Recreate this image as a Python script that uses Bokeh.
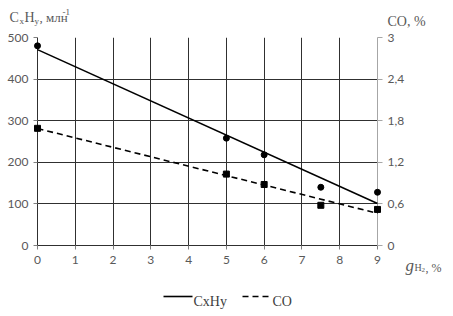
import numpy as np
from bokeh.plotting import figure
from bokeh.models import Range1d, LinearAxis, FixedTicker, CustomJSTickFormatter
from bokeh.core.properties import value
from bokeh.embed import file_html
from bokeh.resources import INLINE

# data
g_h2 = [0, 5, 6, 7.5, 9]
cxhy = [480, 258, 218, 140, 128]          # млн^-1
co = [1.69, 1.03, 0.88, 0.58, 0.52]       # %
x_ticks = [0, 1, 2, 3, 4, 5, 6, 7, 8, 9]
y_ticks = [0, 100, 200, 300, 400, 500]
co_ticks = [0, 0.6, 1.2, 1.8, 2.4, 3]
series_names = ["CxHy", "CO"]

W, H = 453, 316
L, R, T, B = 37, 76, 37, 71

p = figure(width=W, height=H, output_backend="svg", toolbar_location=None,
           x_range=Range1d(0, 9), y_range=Range1d(0, 500),
           min_border_left=L, min_border_right=R, min_border_top=T, min_border_bottom=B,
           x_axis_location="below", y_axis_location="left")
p.outline_line_color = None
p.background_fill_color = "white"
p.border_fill_color = "white"
p.extra_y_ranges = {"co": Range1d(0, 3)}

grid_col = "#303030"
p.xgrid.ticker = FixedTicker(ticks=x_ticks)
p.ygrid.ticker = FixedTicker(ticks=y_ticks)
p.xgrid.grid_line_color = grid_col
p.ygrid.grid_line_color = grid_col
p.xgrid.grid_line_width = 1
p.ygrid.grid_line_width = 1

tick_font = "Lato"
tick_col = "#595959"
for ax in (p.xaxis[0], p.yaxis[0]):
    ax.major_label_text_font = tick_font
    ax.major_label_text_font_size = "12px"
    ax.major_label_text_color = tick_col
    ax.minor_tick_line_color = None
    ax.major_tick_in = 0
    ax.major_tick_out = 4
    ax.axis_line_color = grid_col
    ax.major_tick_line_color = "#808080"
p.xaxis[0].ticker = FixedTicker(ticks=x_ticks)
p.yaxis[0].ticker = FixedTicker(ticks=y_ticks)
p.xaxis[0].major_label_standoff = 6
p.yaxis[0].major_label_standoff = 5

rax = LinearAxis(y_range_name="co", ticker=FixedTicker(ticks=co_ticks))
rax.formatter = CustomJSTickFormatter(
    code="return Number.isInteger(tick) ? String(tick) : tick.toFixed(1).replace('.', ',');")
rax.major_label_text_font = tick_font
rax.major_label_text_font_size = "12px"
rax.major_label_text_color = tick_col
rax.minor_tick_line_color = None
rax.major_tick_in = 0
rax.major_tick_out = 5
rax.axis_line_color = "#a6a6a6"
rax.major_tick_line_color = "#a6a6a6"
rax.major_label_standoff = 5
p.add_layout(rax, "right")

# trend lines (linear least squares of the read points)
xs = np.array(g_h2, dtype=float)
k1, b1 = np.polyfit(xs, np.array(cxhy, dtype=float), 1)
k2, b2 = np.polyfit(xs, np.array(co, dtype=float), 1)
tx = [x_ticks[0], x_ticks[-1]]
rs = []
rs.append(p.line(tx, [b1 + k1 * t for t in tx], line_color="black", line_width=1.6))
rs.append(p.line(tx, [b2 + k2 * t for t in tx], line_color="black", line_width=1.6,
                 line_dash="6 4", y_range_name="co"))
rs.append(p.scatter(g_h2, cxhy, marker="circle", size=6, color="black"))
rs.append(p.scatter(g_h2, co, marker="square", size=6, color="black", y_range_name="co"))
for r in rs:
    r.level = "overlay"

# helpers: pixel position -> data position (for text placement only)
def dx(px):
    return (px - L) * 9 / (W - L - R)

def dy(py):
    return (H - B - py) * 500 / (H - T - B)

title_col = "#595959"
serif = "serif"

def lab(text, px, py, size, italic=False, col=title_col):
    r = p.text(x=[dx(px)], y=[dy(py)], text=[text], text_font=value(serif),
               text_font_size=f"{size}px", text_color=col,
               text_baseline="alphabetic", text_align="left",
               text_font_style="italic" if italic else "normal")
    r.level = "overlay"

# left axis title: CxHy , млн-1
lab("C", 9, 17, 14)
lab("x", 19, 20, 9)
lab("H", 24, 17, 14)
lab("y", 34, 20, 9)
lab(", млн", 39, 17, 13)
lab("-1", 62, 11, 9)
# right axis title
lab("CO, %", 387, 21, 14)
# x axis title g_H2, %
lab("g", 405, 265, 17, italic=True)
lab("H", 414, 267, 10)
lab("2", 421, 269, 7)
lab(", %", 425, 267, 12)

# legend (drawn manually below the axis)
leg_y = dy(296)
r = p.line([dx(163), dx(192)], [leg_y, leg_y], line_color="black", line_width=1.6)
r.level = "overlay"
r = p.line([dx(242), dx(271)], [leg_y, leg_y], line_color="black", line_width=1.6,
           line_dash="6 4")
r.level = "overlay"
lab(series_names[0], 193, 301, 14, col="#404040")
lab(series_names[1], 272, 301, 14, col="#404040")

open("out.html", "w").write(file_html(p, INLINE))
